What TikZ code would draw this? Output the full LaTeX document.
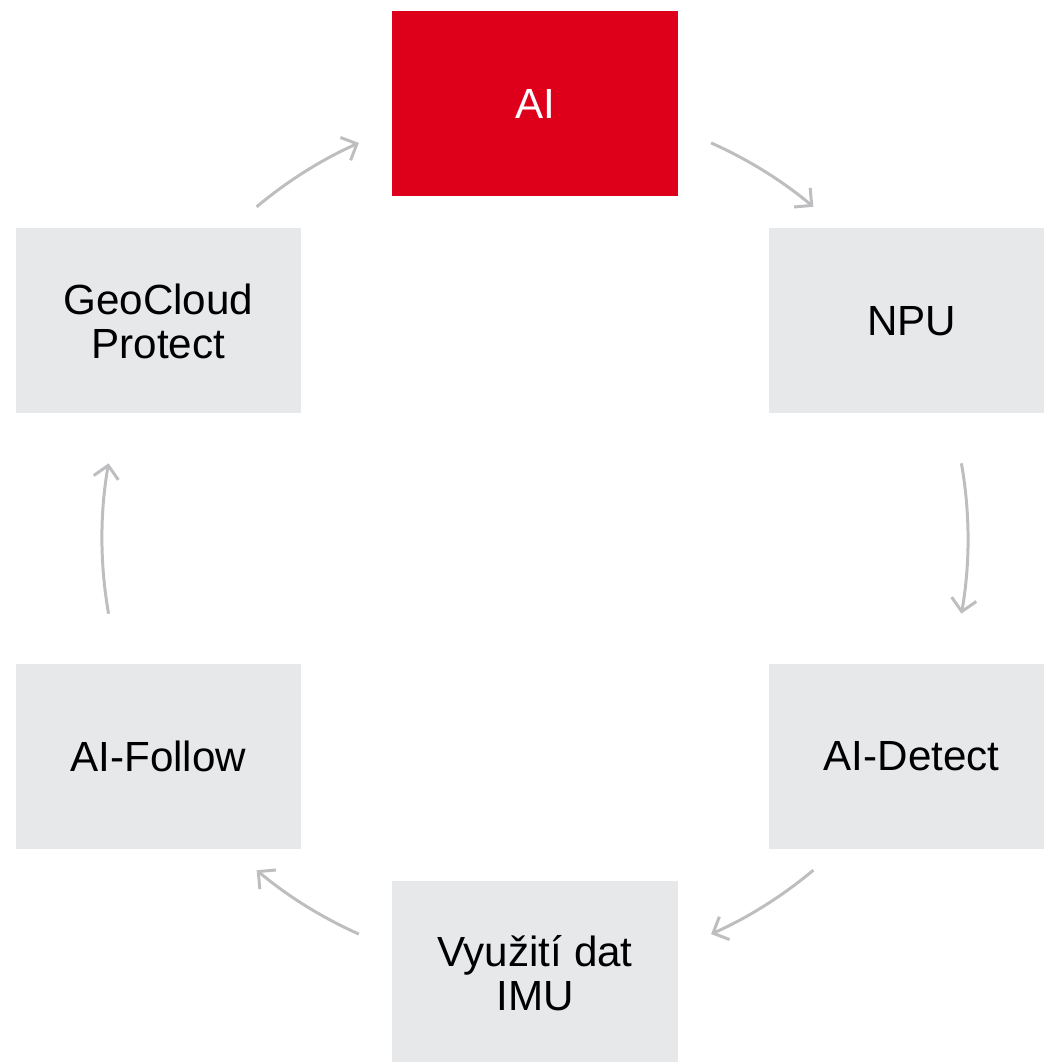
\documentclass[tikz,border=0pt]{standalone}
\usepackage{fontspec}
\setmainfont{Liberation Sans}
\usetikzlibrary{arrows.meta}
\definecolor{boxred}{RGB}{222,0,26}
\definecolor{boxgray}{RGB}{231,232,234}
\definecolor{arrowgray}{RGB}{190,190,192}

\begin{document}
\begin{tikzpicture}[font=\fontsize{24pt}{25pt}\selectfont,stage node/.style={rectangle,fill=boxgray,minimum width=5.7cm,minimum height=3.7cm,align=center,inner sep=0pt}]
\tikzstyle{cycle edge} = [draw,line width=1.7pt,arrowgray,-{Straight Barb[length=2.5mm,width=5mm]}]
\useasboundingbox (-10.70,-10.47) rectangle (10.16,10.77);

\coordinate (center) at (0,0);

% Stages
\node[stage node,fill=boxred,text=white] (ai) at (90:8.7) {AI};
\node[stage node] (npu) at (30:8.7) {NPU};
\node[stage node] (detect) at (-30:8.7) {AI-Detect};
\node[stage node] (imu) at (-90:8.7) {Využití dat\\IMU};
\node[stage node] (follow) at (210:8.7) {AI-Follow};
\node[stage node] (geo) at (150:8.7) {GeoCloud\\Protect};

% Arrow starts
\coordinate (ainpu) at (66:8.66);
\coordinate (npudetect) at (10:8.66);
\coordinate (detectimu) at (-50:8.66);
\coordinate (imufollow) at (-114:8.66);
\coordinate (followgeo) at (190:8.66);
\coordinate (geoai) at (130:8.66);

% Draw cycle
\draw[cycle edge] (ainpu) arc[start angle=66,end angle=50,radius=8.66];
\draw[cycle edge] (npudetect) arc[start angle=10,end angle=-10,radius=8.66];
\draw[cycle edge] (detectimu) arc[start angle=-50,end angle=-66,radius=8.66];
\draw[cycle edge] (imufollow) arc[start angle=-114,end angle=-130,radius=8.66];
\draw[cycle edge] (followgeo) arc[start angle=190,end angle=170,radius=8.66];
\draw[cycle edge] (geoai) arc[start angle=130,end angle=114,radius=8.66];

\end{tikzpicture}
\end{document}
